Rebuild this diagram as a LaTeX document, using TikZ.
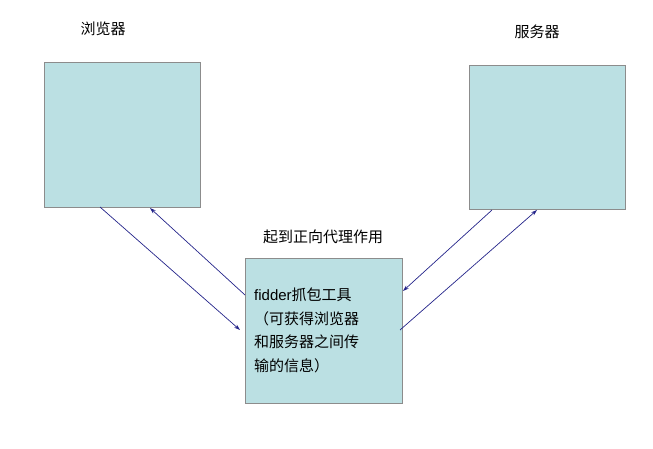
\documentclass[tikz,border=0pt]{standalone}
\usepackage{fontspec}
\setmainfont{Noto Sans CJK SC}
\newfontfamily\latin{Liberation Sans}
\usetikzlibrary{arrows.meta}
\definecolor{boxfill}{HTML}{BBE0E3}
\definecolor{boxline}{HTML}{8C8C8C}
\definecolor{arr}{HTML}{24248A}
\begin{document}
\begin{tikzpicture}[x=1pt,y=-1pt,
  box/.style={draw=boxline,fill=boxfill,line width=0.6pt},
  lab/.style={font=\fontsize{15}{18}\selectfont,inner sep=0pt},
  conn/.style={draw=arr,line width=0.7pt,-{Stealth[length=6pt,width=4pt]}}]
\useasboundingbox (0,0) rectangle (653,449);
\draw[box] (44,62) rectangle (200,207);
\draw[box] (469,65) rectangle (625,209);
\draw[box] (245,258) rectangle (402,403);
\node[lab] (lb) at (103,29) {浏览器};
\node[lab] (rb) at (537,32) {服务器};
\node[lab] (mt) at (323,237) {起到正向代理作用};
\node[lab,anchor=north west,align=left,font=\fontsize{15}{23.5}\selectfont] (ct) at (254,288)
 {{\latin fidder}抓包工具\\（可获得浏览器\\和服务器之间传\\输的信息）};
\coordinate (a1) at (100,207); \coordinate (a2) at (240,330);
\coordinate (b1) at (245,295); \coordinate (b2) at (150,208);
\coordinate (c1) at (492,210); \coordinate (c2) at (403,291);
\coordinate (d1) at (400,330); \coordinate (d2) at (537,210);
\draw[conn] (a1) -- (a2);
\draw[conn] (b1) -- (b2);
\draw[conn] (c1) -- (c2);
\draw[conn] (d1) -- (d2);
\end{tikzpicture}
\end{document}
